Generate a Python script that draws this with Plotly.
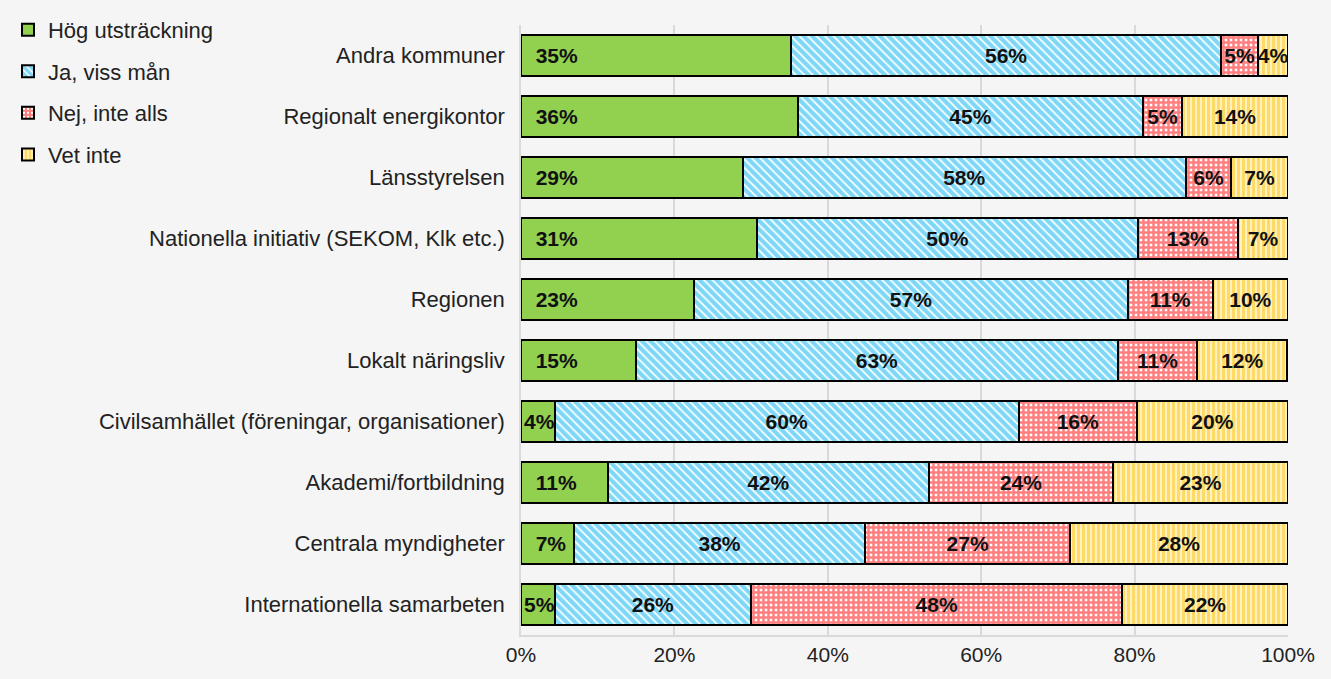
import plotly.graph_objects as go

categories = ["Andra kommuner", "Regionalt energikontor", "Länsstyrelsen",
              "Nationella initiativ (SEKOM, Klk etc.)", "Regionen", "Lokalt näringsliv",
              "Civilsamhället (föreningar, organisationer)", "Akademi/fortbildning",
              "Centrala myndigheter", "Internationella samarbeten"]
hog = [35.2, 36.1, 28.9, 30.8, 22.6, 15.0, 4.4, 11.3, 6.9, 4.4]
ja = [56.1, 45.0, 57.8, 49.6, 56.5, 62.8, 60.5, 41.9, 38.0, 25.6]
nej = [4.8, 5.1, 5.9, 13.1, 11.1, 10.4, 15.4, 24.0, 26.7, 48.4]
vet = [3.9, 13.8, 7.4, 6.5, 9.8, 11.7, 19.7, 22.8, 28.4, 21.6]
labels_hog = ["35%", "36%", "29%", "31%", "23%", "15%", "4%", "11%", "7%", "5%"]
labels_ja = ["56%", "45%", "58%", "50%", "57%", "63%", "60%", "42%", "38%", "26%"]
labels_nej = ["5%", "5%", "6%", "13%", "11%", "11%", "16%", "24%", "27%", "48%"]
labels_vet = ["4%", "14%", "7%", "7%", "10%", "12%", "20%", "23%", "28%", "22%"]
series_names = ["Hög utsträckning", "Ja, viss mån", "Nej, inte alls", "Vet inte"]
xticks = [0, 20, 40, 60, 80, 100]

BG = "#F5F5F5"
FONT = "Liberation Sans, Arial"
NB = "\u00a0"
# left-anchored green labels get a small indent when the segment is wide enough
labels_hog_disp = [(NB * 2 + t) if v > 6 else t for t, v in zip(labels_hog, hog)]

fig = go.Figure()
specs = [
    (series_names[0], hog, labels_hog_disp, dict(color="#92D050"), "start"),
    (series_names[1], ja, labels_ja, dict(color="white", pattern=dict(shape="\\", fgcolor="#00B0F0", bgcolor="white", size=6, solidity=0.7)), "middle"),
    (series_names[2], nej, labels_nej, dict(color="white", pattern=dict(shape="+", fgcolor="#FF0000", bgcolor="white", size=5, solidity=0.75)), "middle"),
    (series_names[3], vet, labels_vet, dict(color="white", pattern=dict(shape="|", fgcolor="#FFC000", bgcolor="#FFF5CC", size=5, solidity=0.65)), "middle"),
]
for i, (name, vals, labs, mk, anchor) in enumerate(specs):
    mk = dict(mk)
    mk["line"] = dict(color="black", width=2)
    fig.add_trace(go.Bar(
        y=categories, x=vals, name=name, orientation="h",
        marker=mk, text=labs, textposition="inside", insidetextanchor=anchor,
        textangle=0, constraintext="none",
        textfont=dict(family=FONT, size=21, color="#111", weight="bold"),
        legendgroup=f"g{i}", hoverinfo="x+y",
    ))

fig.update_layout(
    barmode="stack", bargap=0.34,
    width=1331, height=679,
    paper_bgcolor=BG, plot_bgcolor=BG,
    margin=dict(l=521, r=43, t=25, b=44, autoexpand=False),
    font=dict(family=FONT, size=21, color="#222"),
    uniformtext=dict(minsize=21, mode="show"),
    legend=dict(xref="container", yref="container", x=0.006, y=0.987, xanchor="left", yanchor="top",
                traceorder="grouped", tracegroupgap=10, font=dict(size=22, color="#222"),
                bgcolor="rgba(0,0,0,0)", itemwidth=30),
    xaxis=dict(range=[0, 100], tickvals=xticks, ticktext=[f"{v}%" for v in xticks],
               showgrid=True, gridcolor="#D9D9D9", gridwidth=1.5, zeroline=False,
               showline=True, linecolor="#D9D9D9", linewidth=1.5, ticks="",
               tickfont=dict(size=21, color="#222")),
    yaxis=dict(autorange="reversed", showgrid=False, ticks="", ticklabelstandoff=10,
               showline=True, linecolor="#D9D9D9", linewidth=1.5,
               tickfont=dict(size=22, color="#222")),
)
fig.write_html("out.html", config={"displayModeBar": False},
               post_script="document.body.style.margin='0';")
